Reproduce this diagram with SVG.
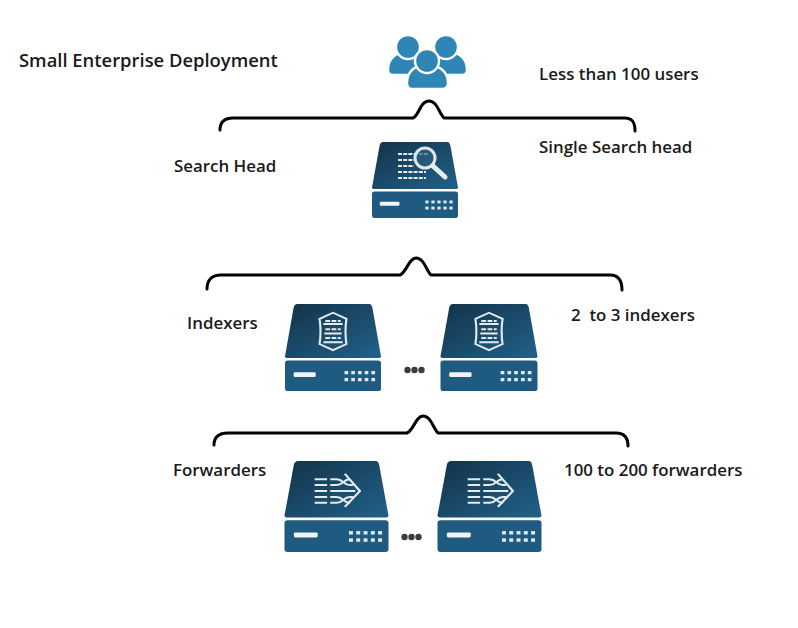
<svg xmlns="http://www.w3.org/2000/svg" width="798" height="628" viewBox="0 0 798 628">
<style>
text{font-family:"Open Sans","Liberation Sans",sans-serif;font-weight:600;font-size:16.9px;fill:#1a1a1a;white-space:pre}
.brace{fill:none;stroke:#000;stroke-width:3;stroke-linejoin:round;stroke-linecap:round}
.ic{fill:none;stroke:#e4ebef;stroke-width:2.2}
.person{fill:#2f86b6;stroke:#fff;stroke-width:2.4}
.dot{fill:#3c3c3c}
</style>
<defs>
<linearGradient id="topg" x1="0" y1="0" x2="1" y2="1">
<stop offset="0" stop-color="#123349"/><stop offset="1" stop-color="#22618a"/>
</linearGradient>
<g id="server">
<path d="M13 0H88Q90 0 91 4L100 60Q100 62 98 62H2Q0 62 0 60L9 4Q10 0 13 0Z" fill="url(#topg)"/>
<rect x="0" y="65" width="100" height="35" rx="3" fill="#1f5a80"/>
<rect x="9" y="78.500" width="23" height="5.500" rx="1.500" fill="#f0f4f6"/>
<g fill="#dfe8ed">
<rect x="62" y="77" width="3.800" height="3.800"/><rect x="69" y="77" width="3.800" height="3.800"/><rect x="76" y="77" width="3.800" height="3.800"/><rect x="83" y="77" width="3.800" height="3.800"/><rect x="90" y="77" width="3.800" height="3.800"/>
<rect x="62" y="85" width="3.800" height="3.800"/><rect x="69" y="85" width="3.800" height="3.800"/><rect x="76" y="85" width="3.800" height="3.800"/><rect x="83" y="85" width="3.800" height="3.800"/><rect x="90" y="85" width="3.800" height="3.800"/>
</g>
</g>
<g id="shield">
<path class="ic" d="M36 17L50 10L64 17Q62 31 64 46L50 53L36 46Q38 31 36 17Z" stroke-width="2.400"/>
<path class="ic" d="M40 23H60M41 34H59M40 44H60" stroke-width="1.300"/>
<path class="ic" d="M42 19.500H58M42 29H58M42 39H58" stroke-width="3" stroke-dasharray="5 1.500"/>
</g>
<g id="fwd">
<path class="ic" d="M29 20H41M29 26.500H41M29 33H41M29 39.500H41M29 46H41" stroke-width="2.800"/>
<path class="ic" d="M44 20H50C57 20 56 26.500 63 26.500H66M44 26.500H50C57 26.500 56 20 63 20M44 33H68M44 39.500H50C57 39.500 56 46 63 46M44 46H50C57 46 56 39.500 63 39.500H66" stroke-width="2.400"/>
<path class="ic" d="M58 14L72.500 33L58 50.500" stroke-width="2.400"/>
</g>
</defs>
<g id="connectors">
<path class="brace" d="M220 130C220 122 224 118 233 118H413C419 116 420 101 429 101C437 101 439 113 444 118H625C632 118 635 122 635 131"/>
<path class="brace" d="M207 289C207 280 212 275 221 275H400C406 273 409 258 416 258C424 258 426 270 431 275H610C618 275 622 280 622 290"/>
<path class="brace" d="M214 445C214 437 219 433 228 433H407C413 431 416 416 423 416C431 416 433 428 438 433H616C624 433 628 437 628 446"/>
</g>
<g id="title"><text x="19" y="67" style="font-size:18.400px">Small Enterprise Deployment</text></g>
<g id="users">
<path class="person" d="M388 70C388 58 396 52 408 52C420 52 428 58 428 70Q428 75 423 75H393Q388 75 388 70Z"/>
<circle class="person" cx="408" cy="47" r="12"/>
<path class="person" d="M427 70C427 58 435 52 447 52C459 52 467 58 467 70Q467 75 462 75H432Q427 75 427 70Z"/>
<circle class="person" cx="446" cy="47" r="12"/>
<path class="person" d="M407 83C407 71 415 65 427 65C439 65 448 71 448 83Q448 89 442 89H412Q407 89 407 83Z"/>
<circle class="person" cx="427" cy="61" r="12"/>
</g>
<g id="users-label"><text x="539" y="80">Less than 100 users</text></g>
<g id="search-head-label"><text x="174" y="172">Search Head</text></g>
<g id="single-search-label"><text x="539" y="153">Single Search head</text></g>
<g id="search-head">
<use href="#server" transform="translate(372 142) scale(.86 .76)"/>
<path class="ic" d="M398 154H428M398 160H414M398 166H414M398 172H426M398 178H426" stroke-width="2.400" stroke-dasharray="4 1.200"/>
<circle cx="425" cy="158" r="10" fill="#2c5f7f" fill-opacity=".7" stroke="#dfe7eb" stroke-width="3"/>
<path d="M433 166L445 177" stroke="#e8edf0" stroke-width="5" stroke-linecap="round"/>
</g>
<g id="indexers-label"><text x="187" y="329">Indexers</text></g>
<g id="indexer-1">
<use href="#server" transform="translate(285 304) scale(.96 .87)"/>
<use href="#shield" transform="translate(285 304) scale(.96 .87)"/>
</g>
<g id="indexer-dots"><circle class="dot" cx="407.500" cy="370" r="3.200"/><circle class="dot" cx="414.500" cy="370" r="3.200"/><circle class="dot" cx="421.500" cy="370" r="3.200"/></g>
<g id="indexer-2">
<use href="#server" transform="translate(440.500 304) scale(.97 .87)"/>
<use href="#shield" transform="translate(440.500 304) scale(.97 .87)"/>
</g>
<g id="indexers-count-label"><text x="571" y="321" xml:space="preserve">2  to 3 indexers</text></g>
<g id="forwarders-label"><text x="173" y="476">Forwarders</text></g>
<g id="forwarder-1">
<use href="#server" transform="translate(284.500 461) scale(1.04 .91)"/>
<use href="#fwd" transform="translate(284.500 461) scale(1.04 .91)"/>
</g>
<g id="forwarder-dots"><circle class="dot" cx="404.500" cy="537" r="3.200"/><circle class="dot" cx="411.500" cy="537" r="3.200"/><circle class="dot" cx="418.500" cy="537" r="3.200"/></g>
<g id="forwarder-2">
<use href="#server" transform="translate(437.500 461) scale(1.04 .91)"/>
<use href="#fwd" transform="translate(437.500 461) scale(1.04 .91)"/>
</g>
<g id="forwarders-count-label"><text x="564" y="476">100 to 200 forwarders</text></g>
</svg>
